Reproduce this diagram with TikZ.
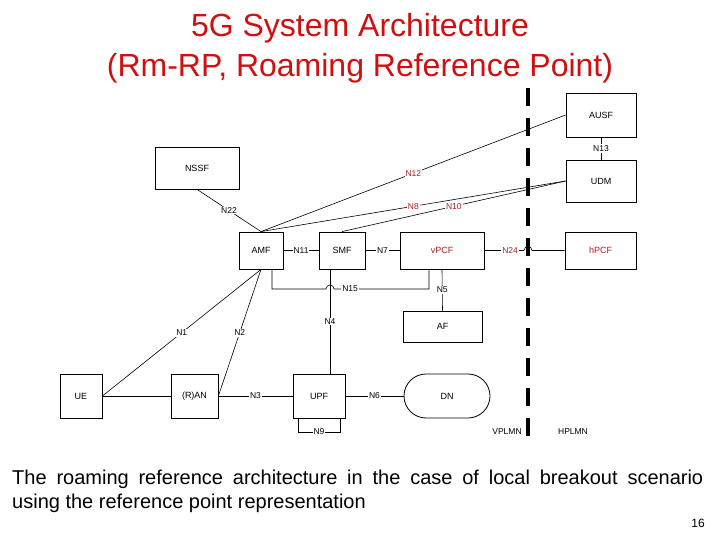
\documentclass[tikz,border=0pt]{standalone}
\usepackage{fontspec}
\setmainfont{Liberation Sans}
\definecolor{titlered}{RGB}{208,16,16}
\definecolor{ifred}{RGB}{165,30,30}
\begin{document}
\begin{tikzpicture}[x=1pt,y=-1pt,
    nf/.style={draw, line width=0.8pt, inner sep=0pt, font=\fontsize{9}{10}\selectfont},
    lbl/.style={fill=white, inner sep=1pt, font=\fontsize{8.5}{10}\selectfont},
    con/.style={line width=0.6pt},
    title/.style={text=titlered, font=\fontsize{32}{36}\selectfont},
    border/.style={line width=4pt, dash pattern=on 18pt off 12pt}]
    \useasboundingbox (0,0) rectangle (720,540);
    \node[title] at (360,28) (t1) {5G System Architecture};
    \node[title] at (360,68) (t2) {(Rm-RP, Roaming Reference Point)};

    \node[nf, minimum width=70pt, minimum height=44pt] at (601,115) (AUSF) {AUSF};
    \node[nf, minimum width=70pt, minimum height=42pt] at (601,181) (UDM) {UDM};
    \node[nf, minimum width=84pt, minimum height=42pt] at (197,168) (NSSF) {NSSF};
    \node[nf, minimum width=44pt, minimum height=37pt] at (261,250.5) (AMF) {AMF};
    \node[nf, minimum width=46pt, minimum height=37pt] at (342,250.5) (SMF) {SMF};
    \node[nf, minimum width=84pt, minimum height=37pt, text=ifred] at (442,250.5) (vPCF) {vPCF};
    \node[nf, minimum width=71pt, minimum height=37pt, text=ifred] at (600.5,250.5) (hPCF) {hPCF};
    \node[nf, minimum width=79pt, minimum height=31pt] at (442.5,326.5) (AF) {AF};
    \node[nf, minimum width=42pt, minimum height=44pt] at (81,396) (UE) {UE};
    \node[nf, minimum width=47pt, minimum height=44pt] at (194.5,396) (RAN) {(R)AN};
    \node[nf, minimum width=52pt, minimum height=44pt] at (319,396) (UPF) {UPF};
    \node[nf, minimum width=86pt, minimum height=44pt, rounded corners=22pt] at (447,396) (DN) {DN};

    \coordinate (vtop) at (528,88);
    \coordinate (vbot) at (528,445);
    \draw[border] (vtop) -- (vbot);
    \node[lbl, fill=none] at (507,432) (vplmn) {VPLMN};
    \node[lbl, fill=none] at (573,432) (hplmn) {HPLMN};

    \draw[con] (NSSF.south) -- node[lbl] {N22} (AMF.north);
    \draw[con] (AMF.north) -- node[lbl, text=ifred] {N12} (AUSF.west);
    \draw[con] (AMF.north) -- node[lbl, text=ifred] {N8} (UDM.west);
    \draw[con] (SMF.north) -- node[lbl, text=ifred] {N10} (UDM.west);
    \draw[con] (AUSF.south) -- node[lbl] {N13} (UDM.north);
    \draw[con] (AMF) -- node[lbl] {N11} (SMF);
    \draw[con] (SMF) -- node[lbl] {N7} (vPCF);
    \coordinate (hop24) at (524,250.5);
    \draw[con] (vPCF.east) -- node[lbl, text=ifred, pos=0.65] {N24} (hop24)
        arc[start angle=180, end angle=0, radius=4pt] -- (hPCF.west);
    \coordinate (n15a) at (272,269);
    \coordinate (n15b) at (429,269);
    \draw[con] (n15a) -- (272,289) -- (326,289) arc[start angle=180, end angle=0, radius=4pt]
        -- node[lbl, pos=0.17] {N15} (429,289) -- (n15b);
    \draw[con] (vPCF.south) -- node[lbl] {N5} (AF.north);
    \coordinate (smfb) at (330,269);
    \coordinate (upft) at (330,374);
    \draw[con] (smfb) -- node[lbl] {N4} (upft);
    \draw[con] (UE.east) -- node[lbl] {N1} (AMF.south);
    \draw[con] (RAN.east) -- node[lbl] {N2} (AMF.south);
    \draw[con] (UE) -- (RAN);
    \draw[con] (RAN) -- node[lbl] {N3} (UPF);
    \draw[con] (UPF) -- node[lbl] {N6} (DN);
    \coordinate (n9a) at (298,418);
    \coordinate (n9b) at (340,418);
    \draw[con] (n9a) -- (298,432) -- node[lbl] {N9} (340,432) -- (n9b);

    \node[anchor=west, text width=691pt, align=justify, inner sep=0pt,
        font=\fontsize{20}{24}\selectfont] at (12,491) (cap)
        {The roaming reference architecture in the case of local breakout scenario\linebreak
        using the reference point representation};
    \node[font=\fontsize{12}{14}\selectfont] at (698,523) (pg) {16};
\end{tikzpicture}
\end{document}
